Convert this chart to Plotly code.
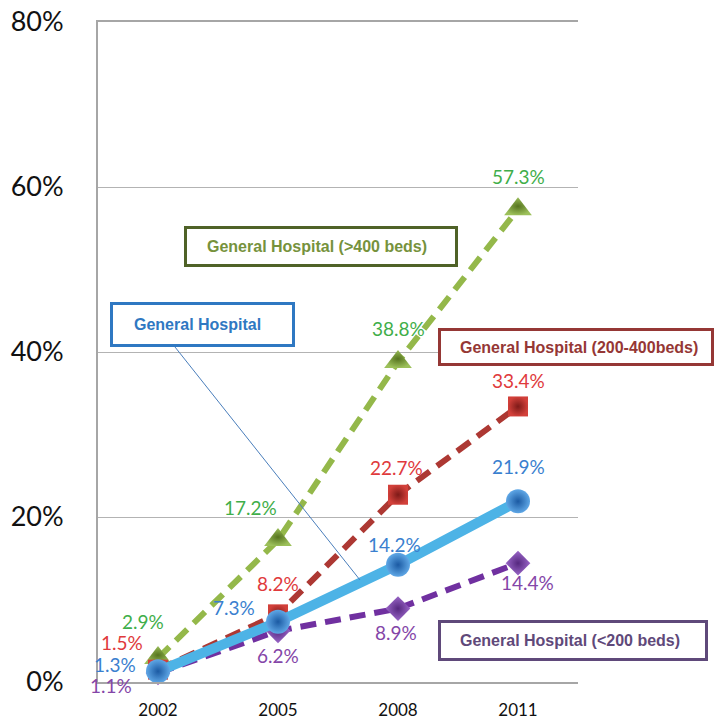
import plotly.graph_objects as go

# Survey years and adoption rates (%) for each hospital group
years = ["2002", "2005", "2008", "2011"]
beds_over_400 = [2.9, 17.2, 38.8, 57.3]
beds_200_400 = [1.5, 8.2, 22.7, 33.4]
beds_under_200 = [1.1, 6.2, 8.9, 14.4]
general_all = [1.3, 7.3, 14.2, 21.9]

y_ticks = [0, 20, 40, 60, 80]
y_tick_text = ["0%", "20%", "40%", "60%", "80%"]

# Pixel offsets (dx, dy; dy downward) for each value label relative to its marker
off_400 = [(-15, -37), (-28, -33), (0, -33), (0, -33)]
off_200_400 = [(-36, -27), (0, -31), (-2, -27), (0, -26)]
off_under_200 = [(-47, 13), (0, 25), (-2, 24), (9, 19)]
off_general = [(-43, -7), (-44, -14), (-4, -20), (0, -35)]

LABEL_FONT = "Lato, 'Open Sans', sans-serif"
BOX_FONT = "'Liberation Sans', Arial, sans-serif"

series = [
    # values, line color, width, dash, marker symbol, size, fill, edge, label color, offsets
    (beds_over_400, "#94b84a", 6, "16px,9px", "triangle-up", 24, "#9cc05a", "#56741f", "#3fae4a", off_400),
    (beds_200_400, "#ad3833", 6, "16px,9px", "square", 20, "#d2403a", "#7e1a18", "#e03a3c", off_200_400),
    (beds_under_200, "#7030a0", 6, "16px,9px", "diamond", 19, "#9a66c8", "#56287f", "#8446a8", off_under_200),
    (general_all, "#4db3e6", 10, "solid", "circle", 24, "#5fa7e6", "#1b5aa3", "#3a7fcf", off_general),
]

fig = go.Figure()
annotations = []
for vals, lc, lw, dash, sym, msize, mfill, medge, tc, offs in series:
    fig.add_trace(go.Scatter(
        x=years, y=vals, mode="lines+markers",
        line=dict(color=lc, width=lw, dash=dash),
        marker=dict(symbol=sym, size=msize, color=mfill,
                    gradient=dict(type="radial", color=medge),
                    line=dict(width=0)),
        cliponaxis=False, hoverinfo="skip", showlegend=False,
    ))
    for i, (v, (dx, dy)) in enumerate(zip(vals, offs)):
        annotations.append(dict(
            x=i, y=v, xref="x", yref="y", text=f"{v:.1f}%", showarrow=False,
            xanchor="center", yanchor="middle",
            xshift=dx, yshift=-dy, font=dict(family=LABEL_FONT, size=19, color=tc),
        ))

# Plot-area geometry in pixels (used to place the callout boxes)
W, H = 715, 719
L, R, T, B = 98, 137, 22, 37
PW, PH = W - L - R, H - T - B


def px(xp):
    return (xp - L) / PW


def py(yp):
    return (H - B - yp) / PH


# Callout boxes: text, box left/top/right/bottom (px), border/text color, text anchor x, align
boxes = [
    ("General Hospital (>400 beds)", 184, 226, 458, 267, "#4f6228", "#76923c", 317, "center"),
    ("General Hospital", 110, 302, 295, 347, "#2f78c2", "#2f78c2", 132, "left"),
    ("General Hospital (200-400beds)", 438, 328, 714, 366, "#953735", "#953735", 579, "center"),
    ("General Hospital (<200 beds)", 438, 620, 708, 661, "#5f497a", "#5f497a", 570, "center"),
]
shapes = []
for text, x0, y0, x1, y1, bc, tc, tx, anchor in boxes:
    shapes.append(dict(
        type="rect", xref="paper", yref="paper",
        x0=px(x0 + 1.5), x1=px(x1 - 1.5), y0=py(y1 - 1.5), y1=py(y0 + 1.5),
        line=dict(color=bc, width=3), fillcolor="white", layer="above",
    ))
    annotations.append(dict(
        x=px(tx), y=py((y0 + y1) / 2), xref="paper", yref="paper",
        xanchor=anchor, yanchor="middle", text=text, showarrow=False,
        font=dict(family=BOX_FONT, size=16, color=tc, weight="bold"),
    ))

# Leader line from the "General Hospital" callout to its series
shapes.append(dict(type="line", xref="paper", yref="paper",
                   x0=px(175), y0=py(347), x1=px(360), y1=py(580),
                   line=dict(color="#4a7ebb", width=1), layer="above"))

fig.update_layout(
    width=W, height=H,
    margin=dict(l=L, r=R, t=T, b=B, pad=0, autoexpand=False),
    paper_bgcolor="white", plot_bgcolor="white",
    annotations=annotations, shapes=shapes,
    xaxis=dict(
        type="category", range=[-0.5, 3.5], showgrid=False,
        showline=True, mirror=True, linecolor="#a6a6a6", linewidth=2, ticks="",
        tickfont=dict(family=LABEL_FONT, size=17, color="#111111"),
        ticklabelstandoff=12, zeroline=False, fixedrange=True, automargin=False,
    ),
    yaxis=dict(
        range=[0, 80], tickvals=y_ticks, ticktext=y_tick_text,
        showgrid=True, gridcolor="#b3b3b3", gridwidth=1,
        showline=True, linecolor="#a6a6a6", linewidth=2, ticks="",
        tickfont=dict(family=LABEL_FONT, size=27, color="#111111"),
        ticklabelstandoff=27, zeroline=False, fixedrange=True, automargin=False,
    ),
)

fig.write_html("out.html")
